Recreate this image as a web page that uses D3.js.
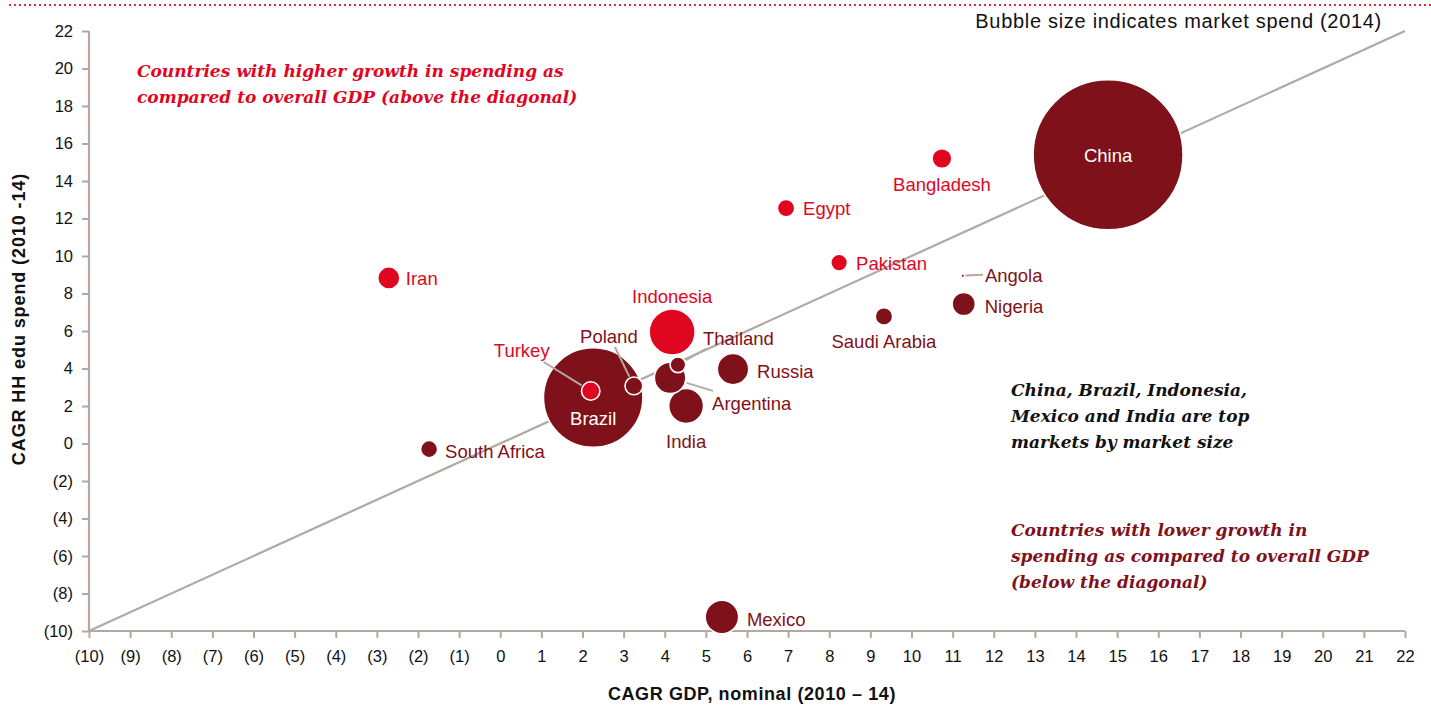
<!DOCTYPE html>
<html>
<head>
<meta charset="utf-8">
<script src="https://cdn.jsdelivr.net/npm/d3@7"></script>
<style>
  html, body { margin: 0; padding: 0; background: #fff; }
  svg { display: block; }
  text { font-family: "Liberation Sans", Arial, Helvetica, sans-serif; }
</style>
</head>
<body>
<svg id="chart" width="1431" height="706"></svg>
<script>
// Countries and their values
const countries = ["China", "Brazil", "Indonesia", "India", "Mexico", "Argentina", "Russia",
  "Iran", "Nigeria", "Bangladesh", "Turkey", "Poland", "Thailand", "Egypt", "Pakistan",
  "Saudi Arabia", "South Africa", "Angola"];
// CAGR nominal GDP, 2010-14 (%)
const gdpGrowth = [14.78, 2.26, 4.18, 4.52, 5.39, 4.13, 5.66,
  -2.71, 11.27, 10.74, 2.2, 3.25, 4.32, 6.95, 8.24,
  9.33, -1.73, 11.25];
// CAGR household education spend, 2010-14 (%)
const eduGrowth = [15.4, 2.45, 5.95, 2.0, -9.25, 3.5, 3.97,
  8.83, 7.44, 15.2, 2.8, 3.07, 4.2, 12.55, 9.65,
  6.78, -0.3, 8.95];
// Market spend 2014 (bubble size)
const marketSpend = [100, 44, 9.4, 5.4, 5.0, 4.4, 4.4,
  2.2, 2.4, 1.75, 1.5, 1.4, 1.1, 1.35, 1.25,
  1.35, 1.3, 0.02];
// Growth group: "higher" = spend outgrowing GDP, "lower" = the rest
const growthGroup = ["lower", "lower", "higher", "lower", "lower", "lower", "lower",
  "higher", "lower", "higher", "higher", "lower", "lower", "higher", "higher",
  "lower", "lower", "lower"];

const xTickValues = [-10, -9, -8, -7, -6, -5, -4, -3, -2, -1, 0, 1, 2, 3, 4, 5, 6, 7, 8, 9, 10,
  11, 12, 13, 14, 15, 16, 17, 18, 19, 20, 21, 22];
const yTickValues = [-10, -8, -6, -4, -2, 0, 2, 4, 6, 8, 10, 12, 14, 16, 18, 20, 22];

const xTitle = "CAGR GDP, nominal (2010 \u2013 14)";
const yTitle = "CAGR HH edu spend (2010 -14)";
const sizeNote = "Bubble size indicates market spend (2014)";
const noteAbove = ["Countries with higher growth in spending as", "compared to overall GDP (above the diagonal)"];
const noteTop = ["China, Brazil, Indonesia,", "Mexico and India are top", "markets by market size"];
const noteBelow = ["Countries with lower growth in", "spending as compared to overall GDP", "(below the diagonal)"];

// Label placement (pixel offsets from the bubble centre)
const labelLayout = {
  "China":        { dx: 0,   dy: 7,   anchor: "middle", inside: true },
  "Brazil":       { dx: 0,   dy: 27,  anchor: "middle", inside: true },
  "Indonesia":    { dx: 0,   dy: -29, anchor: "middle" },
  "India":        { dx: 0,   dy: 42,  anchor: "middle" },
  "Mexico":       { dx: 25,  dy: 9,   anchor: "start" },
  "Argentina":    { dx: 42,  dy: 32,  anchor: "start", lead: [43, 13] },
  "Russia":       { dx: 24,  dy: 9,   anchor: "start" },
  "Iran":         { dx: 17,  dy: 7,   anchor: "start" },
  "Nigeria":      { dx: 21,  dy: 9,   anchor: "start" },
  "Bangladesh":   { dx: 0,   dy: 32,  anchor: "middle" },
  "Turkey":       { dx: -69, dy: -34, anchor: "middle", lead: [-47, -29] },
  "Poland":       { dx: -25, dy: -43, anchor: "middle", lead: [-19, -39] },
  "Thailand":     { dx: 25,  dy: -20, anchor: "start", lead: [28, -16] },
  "Egypt":        { dx: 17,  dy: 7,   anchor: "start" },
  "Pakistan":     { dx: 17,  dy: 7,   anchor: "start" },
  "Saudi Arabia": { dx: 0,   dy: 32,  anchor: "middle" },
  "South Africa": { dx: 16,  dy: 9,   anchor: "start" },
  "Angola":       { dx: 22,  dy: 6,   anchor: "start", lead: [20, -1] }
};

const groupColor = { higher: "#e1061f", lower: "#7f111a" };
const axisColor = "#b2a9a2";

const svg = d3.select("#chart");
const margin = { left: 89, right: 26, top: 31, bottom: 75 };
const W = 1431, H = 706;

const x = d3.scaleLinear().domain([-10, 22]).range([margin.left, W - margin.right]);
const y = d3.scaleLinear().domain([-10, 22]).range([H - margin.bottom, margin.top]);
const r = d3.scaleSqrt().domain([0, 100]).range([0, 75]);

const fmt = v => v < 0 ? "(" + Math.abs(v) + ")" : String(v);

// dotted rule across the top
svg.append("line")
  .attr("x1", 9).attr("x2", W).attr("y1", 5).attr("y2", 5)
  .attr("stroke", "#d52b3a").attr("stroke-width", 2)
  .attr("stroke-dasharray", "2,3");

// axes
const xAxis = svg.append("g")
  .attr("transform", `translate(0,${y(-10)})`)
  .call(d3.axisBottom(x).tickValues(xTickValues).tickFormat(fmt).tickSize(7).tickPadding(12));
const yAxis = svg.append("g")
  .attr("transform", `translate(${x(-10)},0)`)
  .call(d3.axisLeft(y).tickValues(yTickValues).tickFormat(fmt).tickSize(7).tickPadding(9));
[xAxis, yAxis].forEach(g => {
  g.select(".domain").attr("stroke", axisColor).attr("stroke-width", 2.2);
  g.selectAll(".tick line").attr("stroke", axisColor).attr("stroke-width", 2);
  g.selectAll(".tick text").attr("fill", "#111").style("font-size", "16.5px")
    .style("font-family", "'Liberation Sans', Arial, sans-serif");
});
xAxis.select(".domain").attr("d", `M${x(-10)},0H${x(22)}`);
yAxis.select(".domain").attr("d", `M0,${y(-10)}V${y(22)}`);

// diagonal: equal growth in spend and GDP
svg.append("line")
  .attr("x1", x(-10)).attr("y1", y(-10)).attr("x2", x(22)).attr("y2", y(22))
  .attr("stroke", axisColor).attr("stroke-width", 2.2);

// axis titles
svg.append("text")
  .attr("x", 752).attr("y", 700).attr("text-anchor", "middle")
  .style("font-size", "18px").style("font-weight", "bold").style("letter-spacing", "0.6px")
  .attr("fill", "#111")
  .text(xTitle);
svg.append("text")
  .attr("transform", "translate(25,319) rotate(-90)").attr("text-anchor", "middle")
  .style("font-size", "18px").style("font-weight", "bold").style("letter-spacing", "0.9px")
  .attr("fill", "#111")
  .text(yTitle);

svg.append("text")
  .attr("x", 1382).attr("y", 28).attr("text-anchor", "end")
  .style("font-size", "20px").style("letter-spacing", "0.7px").attr("fill", "#111")
  .text(sizeNote);

// annotation blocks
function note(lines, x0, y0, color) {
  const t = svg.append("text")
    .attr("x", x0).attr("y", y0).attr("fill", color)
    .style("font-family", "'DejaVu Serif', Georgia, serif")
    .style("font-style", "italic").style("font-weight", "bold")
    .style("font-size", "17px");
  lines.forEach((l, i) => t.append("tspan").attr("x", x0).attr("dy", i ? 26 : 0).text(l));
}
note(noteAbove, 137, 77, groupColor.higher);
note(noteTop, 1011, 396, "#111");
note(noteBelow, 1011, 536, groupColor.lower);

// bubbles
const data = countries.map((c, i) => ({
  name: c, gdp: gdpGrowth[i], edu: eduGrowth[i], spend: marketSpend[i],
  color: groupColor[growthGroup[i]]
}));
const ordered = data.slice().sort((a, b) => b.spend - a.spend);

svg.append("g").selectAll("circle").data(ordered).join("circle")
  .attr("cx", d => x(d.gdp)).attr("cy", d => y(d.edu))
  .attr("r", d => Math.max(r(d.spend), 1))
  .attr("fill", d => d.color)
  .attr("stroke", d => d.spend > 0.1 ? "#fff" : "none")
  .attr("stroke-width", 1.6);

// leader lines
svg.append("g").selectAll("line").data(data.filter(d => labelLayout[d.name].lead)).join("line")
  .each(function(d) {
    const cx = x(d.gdp), cy = y(d.edu);
    const [lx, ly] = labelLayout[d.name].lead;
    const len = Math.hypot(lx, ly);
    const rr = Math.max(r(d.spend), 1) + 1.5;
    d3.select(this)
      .attr("x1", cx + lx * rr / len).attr("y1", cy + ly * rr / len)
      .attr("x2", cx + lx).attr("y2", cy + ly);
  })
  .attr("stroke", axisColor).attr("stroke-width", 2);

// country labels
svg.append("g").selectAll("text").data(data).join("text")
  .attr("x", d => x(d.gdp) + labelLayout[d.name].dx)
  .attr("y", d => y(d.edu) + labelLayout[d.name].dy)
  .attr("text-anchor", d => labelLayout[d.name].anchor)
  .attr("fill", d => labelLayout[d.name].inside ? "#fff" : d.color)
  .style("font-size", "18.5px")
  .text(d => d.name);
</script>
</body>
</html>
